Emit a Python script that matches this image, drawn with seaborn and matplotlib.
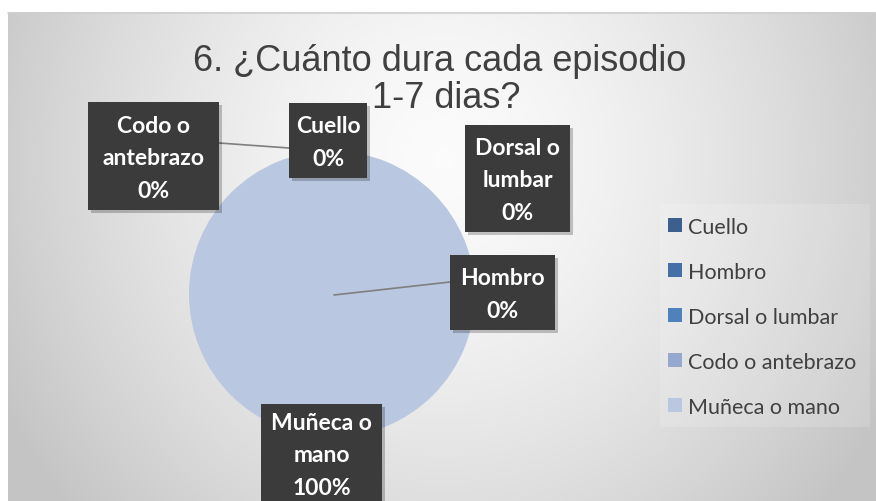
import numpy as np
import matplotlib
matplotlib.use("Agg")
import matplotlib.pyplot as plt
import seaborn as sns
from matplotlib.patches import Rectangle

categories = ["Cuello", "Hombro", "Dorsal o lumbar", "Codo o antebrazo", "Muñeca o mano"]
values = [0, 0, 0, 0, 100]
colors = ["#3D5F8E", "#4470A7", "#4F81BD", "#95A9CF", "#B9C7E0"]
title_lines = ["6. ¿Cuánto dura cada episodio", "1-7 dias?"]

sns.set_theme(style="white")
plt.rcParams['font.family'] = ['Lato', 'DejaVu Sans']

W, H = 876, 502
fig = plt.figure(figsize=(W / 100, H / 100), dpi=100)
fig.patch.set_facecolor("white")

# background gradient
bg = fig.add_axes([0, 0, 1, 1])
bg.set_xlim(0, W); bg.set_ylim(H, 0); bg.axis("off")
yy, xx = np.mgrid[0:H, 0:W]
d = np.sqrt(((xx - 440) / 480.0) ** 2 + ((yy - 150) / 520.0) ** 2)
val = 0.985 - 0.2 * np.clip(d, 0, 1.05) ** 1.5
img = np.dstack([val, val, val])
bg.imshow(img, extent=(8, W, H, 13), aspect="auto", zorder=0)
bg.plot([8, W], [13.5, 13.5], color="#cfcfcf", lw=1.2, zorder=1)

# pie
cx, cy, r = 332, 295, 143
pax = fig.add_axes([(cx - r) / W, 1 - (cy + r) / H, 2 * r / W, 2 * r / H])
pax.pie(values, colors=colors, startangle=90, counterclock=False,
        wedgeprops=dict(linewidth=0))
pax.set_xlim(-1, 1); pax.set_ylim(-1, 1)
pax.set_aspect("auto")
pax.axis("off")

# overlay axes for labels (pixel coords)
ov = fig.add_axes([0, 0, 1, 1])
ov.set_xlim(0, W); ov.set_ylim(H, 0); ov.axis("off")
ov.patch.set_alpha(0)

# leader lines
ov.plot([219, 289], [144, 149], color="#7f7f7f", lw=1.2, zorder=2)
ov.plot([450, 334], [283, 296], color="#7f7f7f", lw=1.2, zorder=2)

total = sum(values)
boxes = {
    "Codo o antebrazo": (88, 103, 131, 108, "Codo o\nantebrazo", 159),
    "Cuello": (289, 104, 78, 75, "Cuello", 143),
    "Dorsal o lumbar": (465, 126, 105, 107, "Dorsal o\nlumbar", 181),
    "Hombro": (450, 256, 105, 75, "Hombro", 295),
    "Muñeca o mano": (261, 405, 121, 110, "Muñeca o\nmano", 456),
}
for cat, v in zip(categories, values):
    x, y, w, h, lab, ty = boxes[cat]
    ov.add_patch(Rectangle((x + 3, y + 3), w, h, facecolor="#000000", alpha=0.22,
                           edgecolor="none", zorder=3))
    ov.add_patch(Rectangle((x, y), w, h, facecolor="#3b3b3b", edgecolor="none",
                           zorder=4))
    pct = f"{v / total * 100:.0f}%"
    ov.text(x + w / 2, ty, f"{lab}\n{pct}", ha="center", va="center",
            color="white", fontsize=16.5, fontweight="bold", linespacing=1.65,
            zorder=5)

# title
ov.text(440, 71, title_lines[0], ha="center", va="baseline", fontsize=26,
        color="#404040", family=["Liberation Sans", "DejaVu Sans"], zorder=6)
ov.text(446, 108, title_lines[1], ha="center", va="baseline", fontsize=26,
        color="#404040", family=["Liberation Sans", "DejaVu Sans"], zorder=6)

# legend
ov.add_patch(Rectangle((660, 205), 210, 223, facecolor="white", alpha=0.15,
                       edgecolor="none", zorder=4))
for i, (cat, c) in enumerate(zip(categories, colors)):
    y = 226 + i * 45
    ov.add_patch(Rectangle((668, y - 7), 14, 14, facecolor=c, edgecolor="none", zorder=5))
    ov.text(688, y, cat, ha="left", va="center_baseline", fontsize=15.5,
            color="#404040", zorder=5)

fig.savefig("out.png", dpi=100)
